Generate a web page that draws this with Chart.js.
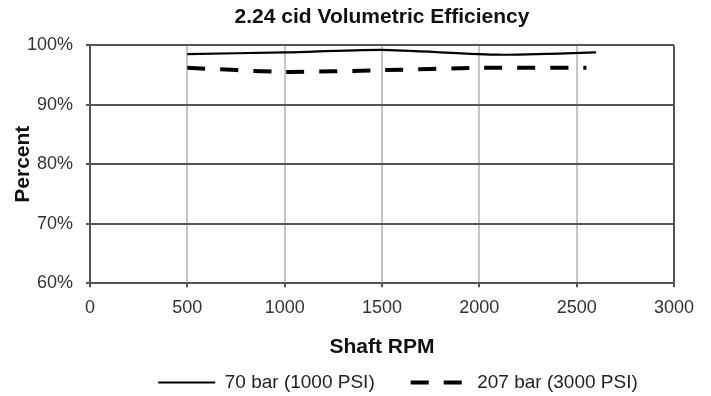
<!DOCTYPE html>
<html lang="en">
<head>
    <meta charset="UTF-8">
    <title>2.24 cid Volumetric Efficiency</title>
    <script src="https://cdn.jsdelivr.net/npm/chart.js"></script>
    <style>
        body { margin: 0; background: #fff; }
    </style>
</head>
<body>
    <canvas id="veChart" width="711" height="396"></canvas>
    <script>
        const rpm70 = [500, 1000, 1500, 2100, 2600];
        const eff70 = [98.5, 98.8, 99.2, 98.4, 98.8];
        const rpm207 = [500, 1000, 1500, 2000, 2550];
        const eff207 = [96.2, 95.5, 95.8, 96.2, 96.2];
        const seriesLabels = ['70 bar (1000 PSI)', '207 bar (3000 PSI)'];

        const font = 'Liberation Sans, Arial, sans-serif';

        // nudge legend sideways so it sits where the original does
        const legendShift = {
            id: 'legendShift',
            afterLayout(chart) {
                chart.legend.left += 16;
                chart.legend.right += 16;
            }
        };

        const ctx = document.getElementById('veChart').getContext('2d');
        new Chart(ctx, {
            type: 'scatter',
            data: {
                datasets: [{
                    label: seriesLabels[0],
                    data: rpm70.map((x, i) => ({x: x, y: eff70[i]})),
                    showLine: true,
                    borderColor: '#000',
                    backgroundColor: '#000',
                    borderWidth: 2.2,
                    pointRadius: 0,
                    tension: 0.2
                }, {
                    label: seriesLabels[1],
                    data: rpm207.map((x, i) => ({x: x, y: eff207[i]})),
                    showLine: true,
                    borderColor: '#000',
                    backgroundColor: '#000',
                    borderWidth: 4,
                    borderDash: [18, 15],
                    pointRadius: 0,
                    tension: 0.2
                }]
            },
            options: {
                responsive: false,
                animation: false,
                layout: { padding: { left: 0, right: 37, top: 4, bottom: -6 } },
                plugins: {
                    title: {
                        display: true,
                        text: '2.24 cid Volumetric Efficiency',
                        fullSize: false,
                        color: '#111',
                        font: { family: font, size: 21, weight: 'bold' },
                        padding: { top: 1, bottom: 15 }
                    },
                    legend: {
                        position: 'bottom',
                        fullSize: false,
                        labels: {
                            usePointStyle: true,
                            pointStyle: 'line',
                            pointStyleWidth: 57,
                            boxHeight: 10,
                            padding: 36,
                            color: '#222',
                            font: { family: font, size: 19 },
                            generateLabels(chart) {
                                const items = Chart.defaults.plugins.legend.labels.generateLabels(chart);
                                items.forEach((it, i) => {
                                    const ds = chart.data.datasets[i];
                                    it.pointStyle = 'line';
                                    it.lineWidth = ds.borderWidth;
                                    it.lineDash = ds.borderDash || [];
                                    it.strokeStyle = ds.borderColor;
                                });
                                return items;
                            }
                        }
                    },
                    tooltip: { enabled: false }
                },
                scales: {
                    x: {
                        type: 'linear',
                        min: 0,
                        max: 3000,
                        ticks: {
                            stepSize: 500,
                            padding: 10,
                            color: '#333',
                            font: { family: font, size: 18 },
                            callback: (v) => String(v)
                        },
                        grid: {
                            color: (c) => (c.tick && (c.tick.value === 0 || c.tick.value === 3000)) ? '#555' : '#c4c4c4',
                            tickColor: '#555',
                            tickLength: 4,
                            lineWidth: 2
                        },
                        border: { color: '#555', width: 2 },
                        title: {
                            display: true,
                            text: 'Shaft RPM',
                            color: '#111',
                            font: { family: font, size: 21, weight: 'bold' },
                            padding: { top: 6, bottom: -23 }
                        }
                    },
                    y: {
                        min: 60,
                        max: 100,
                        afterFit: (scale) => { scale.width = 90; },
                        ticks: {
                            stepSize: 10,
                            padding: 13,
                            color: '#333',
                            font: { family: font, size: 18 },
                            callback: (v) => v + '%'
                        },
                        grid: {
                            color: '#555',
                            tickColor: '#555',
                            tickLength: 4,
                            lineWidth: 2
                        },
                        border: { color: '#555', width: 2 },
                        title: {
                            display: true,
                            text: 'Percent',
                            color: '#111',
                            font: { family: font, size: 21, weight: 'bold' },
                            padding: { top: 11, bottom: 0 }
                        }
                    }
                }
            },
            plugins: [legendShift]
        });
    </script>
</body>
</html>
